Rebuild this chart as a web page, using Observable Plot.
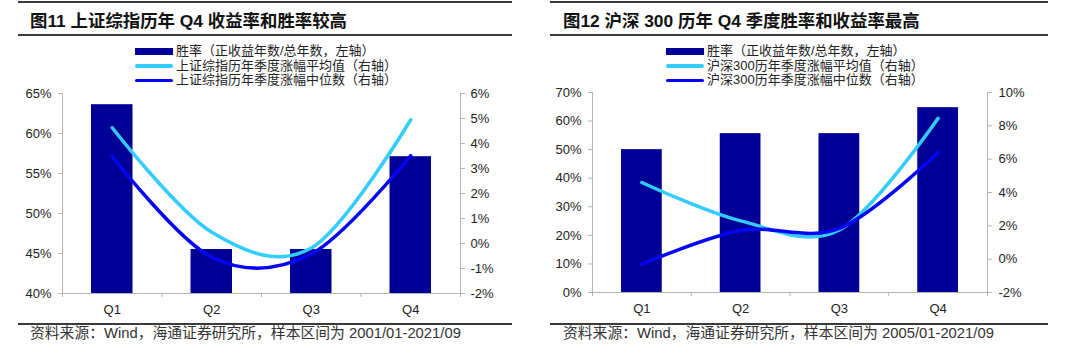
<!DOCTYPE html>
<html><head><meta charset="utf-8">
<script src="https://cdn.jsdelivr.net/npm/d3@7"></script>
<script src="https://cdn.jsdelivr.net/npm/@observablehq/plot@0.6"></script>
<style>
body{margin:0;background:#fff;}
#root{position:relative;width:1080px;height:355px;overflow:hidden;font-family:"Liberation Sans","Noto Sans CJK SC",sans-serif;color:#222;}
.hr{position:absolute;height:0;border-top:2px solid #3a3a3a;}
.title{position:absolute;font-weight:bold;font-size:17.4px;line-height:20px;color:#111;white-space:nowrap;}
.legend{position:absolute;font-size:13px;line-height:14.5px;color:#222;white-space:nowrap;}
.legend .row{display:flex;align-items:center;height:14.5px;}
.legend .sw{width:38px;margin-right:3px;}
.caption{position:absolute;font-size:14.8px;line-height:16px;color:#333;white-space:nowrap;}
.plotbox{position:absolute;top:85px;}
</style></head>
<body><div id="root"></div>
<script>
const quarters = ["Q1","Q2","Q3","Q4"];

// Left chart: 上证综指
const leftWin = [63.6, 45.5, 45.5, 57.1];
const leftAvg = [4.63, 0.45, -0.18, 4.95];
const leftMed = [3.48, -0.55, -0.42, 3.52];
const leftYTicks = [40, 45, 50, 55, 60, 65];
const leftY2Ticks = [-2, -1, 0, 1, 2, 3, 4, 5, 6];
const leftTitle = "图11 上证综指历年 Q4 收益率和胜率较高";
const leftLegend = ["胜率（正收益年数/总年数，左轴）", "上证综指历年季度涨幅平均值（右轴）", "上证综指历年季度涨幅中位数（右轴）"];
const leftCaption = "资料来源：Wind，海通证券研究所，样本区间为 2001/01-2021/09";

// Right chart: 沪深300
const rightWin = [50.0, 55.6, 55.6, 64.7];
const rightAvg = [4.6, 2.3, 1.75, 8.45];
const rightMed = [-0.3, 1.72, 1.85, 6.4];
const rightYTicks = [0, 10, 20, 30, 40, 50, 60, 70];
const rightY2Ticks = [-2, 0, 2, 4, 6, 8, 10];
const rightTitle = "图12 沪深 300 历年 Q4 季度胜率和收益率最高";
const rightLegend = ["胜率（正收益年数/总年数，左轴）", "沪深300历年季度涨幅平均值（右轴）", "沪深300历年季度涨幅中位数（右轴）"];
const rightCaption = "资料来源：Wind，海通证券研究所，样本区间为 2005/01-2021/09";

const BAR = "#000096", AVG = "#33CCFF", MED = "#0505F5", AXIS = "#b4b4b4";

function chart({win, avg, med, yTicks, y2Ticks, marginLeft, marginRight, rPad}) {
  const y0 = yTicks[0], y1 = yTicks[yTicks.length - 1];
  const r0 = y2Ticks[0], r1 = y2Ticks[y2Ticks.length - 1];
  const toL = v => y0 + (v - r0) * (y1 - y0) / (r1 - r0);
  const fromL = d => r0 + (d - y0) * (r1 - r0) / (y1 - y0);
  const rows = quarters.map((q, i) => ({q, i, win: win[i], avg: toL(avg[i]), med: toL(med[i])}));
  const n = quarters.length;
  return Plot.plot({
    width: 540, height: 235, marginLeft, marginRight, marginTop: 8, marginBottom: 27,
    x: {domain: [0, n], axis: null},
    y: {domain: [y0, y1], axis: null},
    style: {fontFamily: "Liberation Sans, Arial, sans-serif", fontSize: "13px", background: "transparent", overflow: "visible"},
    marks: [
      Plot.rect(rows, {x1: "i", x2: d => d.i + 1, y1: y0, y2: "win", fill: BAR, insetLeft: 29, insetRight: 29}),
      Plot.ruleY([y0], {stroke: AXIS, strokeWidth: 1}),
      Plot.ruleX([0, n], {stroke: AXIS, strokeWidth: 1}),
      Plot.axisY(yTicks, {anchor: "left", tickSize: 4, tickPadding: 7, tickFormat: d => d + "%", stroke: AXIS, fill: "#222", label: null}),
      Plot.axisY(y2Ticks.map(toL), {anchor: "right", tickSize: 4, tickPadding: rPad, tickFormat: d => Math.round(fromL(d)) + "%", stroke: AXIS, fill: "#222", label: null}),
      Plot.axisX(d3.range(n + 1), {tickSize: 4, tickFormat: () => "", stroke: AXIS, label: null}),
      Plot.axisX(quarters.map((q, i) => i + 0.5), {tickSize: 0, tickPadding: 11, tickFormat: d => quarters[Math.floor(d)], fill: "#222", label: null}),
      Plot.line(rows, {x: d => d.i + 0.5, y: "avg", stroke: AVG, strokeWidth: 3.5, curve: "cardinal", tension: 0}),
      Plot.line(rows, {x: d => d.i + 0.5, y: "med", stroke: MED, strokeWidth: 3.5, curve: "cardinal", tension: 0})
    ]
  });
}

const root = document.getElementById("root");
function el(cls, style, html) {
  const d = document.createElement("div");
  d.className = cls; Object.assign(d.style, style);
  if (html != null) d.textContent = html;
  root.appendChild(d); return d;
}

function panel(ox, cfg) {
  el("hr", {left: (ox + cfg.lineL) + "px", width: cfg.lineW + "px", top: "1px"});
  el("title", {left: (ox + cfg.titleX) + "px", top: "11px"}, cfg.title);
  el("hr", {left: (ox + cfg.lineL) + "px", width: cfg.lineW + "px", top: "34px"});
  const lg = el("legend", {left: (ox + cfg.legendX) + "px", top: "44px"});
  const sw = [{bg: BAR, h: 7, r: 0}, {bg: AVG, h: 3.5, r: 2}, {bg: MED, h: 3.5, r: 2}];
  cfg.legend.forEach((t, i) => {
    const r = document.createElement("div"); r.className = "row";
    const s = document.createElement("div"); s.className = "sw";
    Object.assign(s.style, {background: sw[i].bg, height: sw[i].h + "px", borderRadius: sw[i].r + "px"});
    const sp = document.createElement("span"); sp.textContent = t;
    r.appendChild(s); r.appendChild(sp); lg.appendChild(r);
  });
  const box = el("plotbox", {left: ox + "px", top: cfg.plotTop + "px"});
  box.appendChild(chart(cfg));
  el("hr", {left: (ox + cfg.lineL) + "px", width: cfg.lineW + "px", top: "323px"});
  el("caption", {left: (ox + cfg.titleX) + "px", top: "325px"}, cfg.caption);
}

panel(0, {win: leftWin, avg: leftAvg, med: leftMed, yTicks: leftYTicks, y2Ticks: leftY2Ticks,
  marginLeft: 62, marginRight: 80, rPad: 6, plotTop: 85,
  title: leftTitle, legend: leftLegend, caption: leftCaption,
  lineL: 18, lineW: 494, titleX: 30, legendX: 135});
panel(540, {win: rightWin, avg: rightAvg, med: rightMed, yTicks: rightYTicks, y2Ticks: rightY2Ticks,
  marginLeft: 52, marginRight: 93, rPad: 7, plotTop: 84,
  title: rightTitle, legend: rightLegend, caption: rightCaption,
  lineL: 10, lineW: 498, titleX: 23, legendX: 126});
</script>
</body></html>
